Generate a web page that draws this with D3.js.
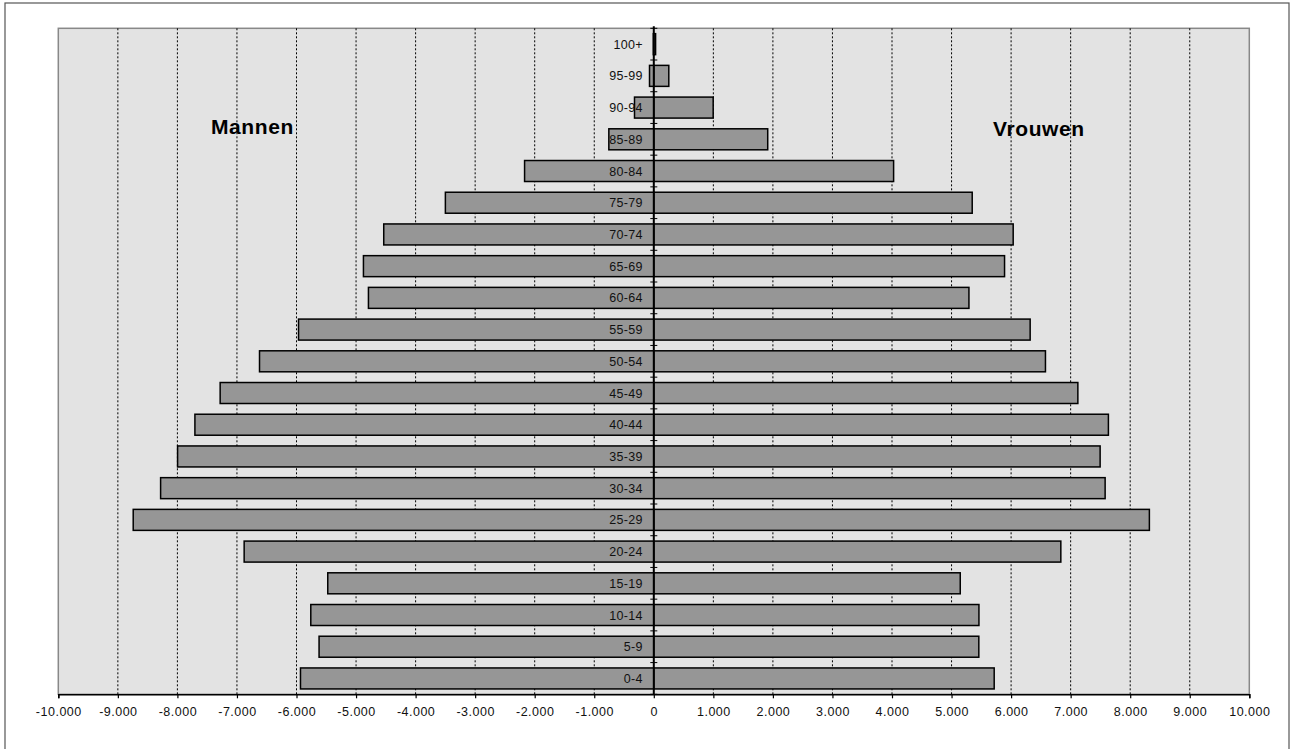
<!DOCTYPE html>
<html>
<head>
<meta charset="utf-8">
<script src="https://cdn.jsdelivr.net/npm/d3@7"></script>
<style>
  html, body { margin: 0; padding: 0; background: #fff; }
  svg { display: block; }
  text { font-family: "Liberation Sans", Arial, sans-serif; }
</style>
</head>
<body>
<svg id="chart" width="1298" height="749"></svg>
<script>
// Age groups, bottom to top
const ageGroups = ["0-4","5-9","10-14","15-19","20-24","25-29","30-34","35-39","40-44","45-49",
                   "50-54","55-59","60-64","65-69","70-74","75-79","80-84","85-89","90-94","95-99","100+"];
// Men (drawn to the left)
const men = [5933, 5621, 5760, 5475, 6879, 8742, 8282, 7997, 7706, 7282,
             6621, 5966, 4792, 4876, 4535, 3500, 2170, 755, 324, 72, 8];
// Women (drawn to the right)
const women = [5716, 5458, 5460, 5146, 6835, 8322, 7579, 7495, 7634, 7121,
               6577, 6320, 5292, 5890, 6035, 5347, 4027, 1913, 997, 252, 30];
const xTicks = d3.range(-10000, 10001, 1000);
const seriesLabels = ["Mannen", "Vrouwen"];

(function () {
const svg = d3.select("#chart");
const pLeft = 58.3, pRight = 1249.3, pTop = 28.3, pBottom = 694.3;

const nl = d3.formatLocale({decimal: ",", thousands: ".", grouping: [3], currency: ["", ""], minus: "-"});
const fmt = nl.format(",");

const x = d3.scaleLinear().domain([-10000, 10000]).range([pLeft, pRight]);
const y = d3.scaleBand().domain(ageGroups.slice().reverse()).range([pTop, pBottom])
  .paddingInner(0.338).paddingOuter(0.169);

// outer frame
svg.append("rect").attr("x", 5).attr("y", 3).attr("width", 1284).attr("height", 760)
  .attr("fill", "#fff").attr("stroke", "#555").attr("stroke-width", 1.2);

// plot area
svg.append("rect").attr("x", pLeft).attr("y", pTop).attr("width", pRight - pLeft).attr("height", pBottom - pTop)
  .attr("fill", "#e3e3e3").attr("stroke", "#888").attr("stroke-width", 1.5);

// gridlines
svg.append("g").selectAll("line").data(xTicks.filter(d => d !== 0 && d !== -10000 && d !== 10000))
  .join("line")
  .attr("x1", d => x(d)).attr("x2", d => x(d))
  .attr("y1", pTop).attr("y2", pBottom)
  .attr("stroke", "#000").attr("stroke-width", 1).attr("stroke-dasharray", "2,2");

const data = ageGroups.map((g, i) => ({g, m: men[i], w: women[i]}));

// bars
const bars = svg.append("g");
bars.selectAll("rect.m").data(data).join("rect").attr("class", "m")
  .attr("x", d => x(-d.m)).attr("width", d => x(0) - x(-d.m))
  .attr("y", d => y(d.g)).attr("height", y.bandwidth())
  .attr("fill", "#969696").attr("stroke", "#000").attr("stroke-width", 1.5);
bars.selectAll("rect.w").data(data).join("rect").attr("class", "w")
  .attr("x", x(0)).attr("width", d => x(d.w) - x(0))
  .attr("y", d => y(d.g)).attr("height", y.bandwidth())
  .attr("fill", "#969696").attr("stroke", "#000").attr("stroke-width", 1.5);

// zero axis
svg.append("line").attr("x1", x(0)).attr("x2", x(0)).attr("y1", pTop - 2).attr("y2", pBottom)
  .attr("stroke", "#000").attr("stroke-width", 2);
// category boundary ticks on zero axis
const bounds = ageGroups.slice().reverse().map(g => y(g) - y.step() * y.paddingInner() / 2);
bounds.push(pBottom);
svg.append("g").selectAll("line").data(bounds).join("line")
  .attr("x1", x(0) - 3.5).attr("x2", x(0) + 3.5)
  .attr("y1", d => d).attr("y2", d => d)
  .attr("stroke", "#000").attr("stroke-width", 1);

// category labels
svg.append("g").selectAll("text").data(ageGroups).join("text")
  .attr("x", x(0) - 11).attr("y", d => y(d) + y.bandwidth() / 2)
  .attr("dy", "0.36em").attr("text-anchor", "end")
  .attr("font-size", "12.5px").attr("letter-spacing", "0.3px").attr("fill", "#111")
  .text(d => d);

// x axis
const xAxis = d3.axisBottom(x).tickValues(xTicks).tickFormat(fmt).tickSize(4).tickPadding(9);
const ax = svg.append("g").attr("transform", `translate(0,${pBottom})`).call(xAxis);
ax.select(".domain").attr("stroke", "#000").attr("stroke-width", 1.5);
ax.selectAll(".tick line").attr("stroke", "#000").attr("stroke-width", 1.2);
ax.selectAll(".tick text").attr("font-size", "12.5px").attr("letter-spacing", "0.5px")
  .attr("font-family", "'Liberation Sans', Arial, sans-serif").attr("fill", "#111");

// series labels
svg.append("text").attr("x", 211).attr("y", 134).attr("font-size", "21px").attr("font-weight", "bold")
  .attr("letter-spacing", "0.6px").attr("fill", "#000").text(seriesLabels[0]);
svg.append("text").attr("x", 993).attr("y", 136).attr("font-size", "21px").attr("font-weight", "bold")
  .attr("letter-spacing", "0.6px").attr("fill", "#000").text(seriesLabels[1]);
})();
</script>
</body>
</html>
